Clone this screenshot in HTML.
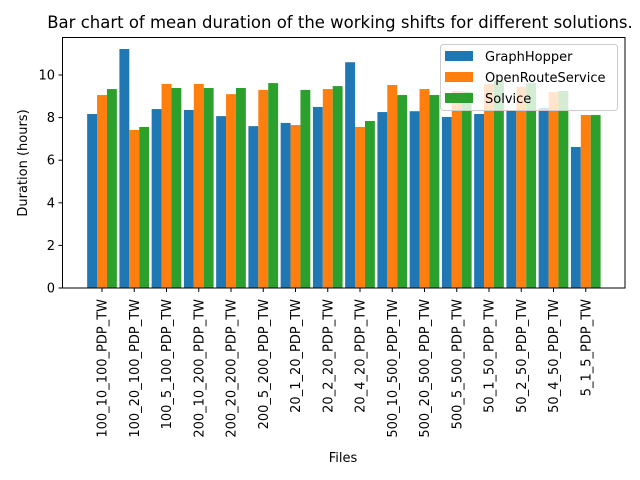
<!DOCTYPE html>
<html><head><meta charset="utf-8"><style>
body{margin:0;background:#fff;}
svg{display:block;font-family:"DejaVu Sans","Liberation Sans",sans-serif;}
</style></head><body>
<svg id="chart" width="640" height="480">
<text x="340" y="28" font-size="16.5" text-anchor="middle">Bar chart of mean duration of the working shifts for different solutions.</text>
<g id="bars"></g>
<g id="yticks"></g>
<g id="xticks"></g>
<rect x="62.5" y="37.5" width="562.5" height="250.5" fill="none" stroke="#000" stroke-width="1"/>
<text transform="translate(27,163) rotate(-90)" font-size="13" text-anchor="middle">Duration (hours)</text>
<text x="343" y="462" font-size="13" text-anchor="middle">Files</text>
<g>
<rect x="440.5" y="44.5" width="177" height="66" rx="3" fill="#fff" fill-opacity="0.8" stroke="#ccc"/>
<rect x="445" y="51" width="28" height="10" fill="#1f77b4"/>
<text x="485" y="61" font-size="13">GraphHopper</text>
<rect x="445" y="72" width="28" height="10" fill="#ff7f0e"/>
<text x="485" y="82" font-size="13">OpenRouteService</text>
<rect x="445" y="93" width="28" height="10" fill="#2ca02c"/>
<text x="485" y="103" font-size="13">Solvice</text>
</g>
</svg>
<script>
const categories=["100_10_100_PDP_TW","100_20_100_PDP_TW","100_5_100_PDP_TW","200_10_200_PDP_TW","200_20_200_PDP_TW","200_5_200_PDP_TW","20_1_20_PDP_TW","20_2_20_PDP_TW","20_4_20_PDP_TW","500_10_500_PDP_TW","500_20_500_PDP_TW","500_5_500_PDP_TW","50_1_50_PDP_TW","50_2_50_PDP_TW","50_4_50_PDP_TW","5_1_5_PDP_TW"];
const graphhopper=[8.17,11.22,8.4,8.36,8.07,7.6,7.75,8.5,10.6,8.26,8.3,8.03,8.17,8.36,8.45,6.62];
const openroute=[9.06,7.42,9.58,9.58,9.1,9.3,7.65,9.34,7.56,9.53,9.34,9.25,9.58,9.44,9.2,8.12];
const solvice=[9.34,7.56,9.39,9.39,9.39,9.62,9.3,9.48,7.84,9.06,9.06,9.22,9.72,9.62,9.25,8.12];
const yTicks=[0,2,4,6,8,10];
const NS="http://www.w3.org/2000/svg";
function yS(v){return 288-v*21.3;}
function xS(i){return 102+i*32.25;}
const bw=9.9;
const series=[[graphhopper,"#1f77b4","graphhopper",-1],[openroute,"#ff7f0e","openrouteservice",0],[solvice,"#2ca02c","solvice",1]];
const bars=document.getElementById('bars');
series.forEach(s=>{
  s[0].forEach((v,i)=>{
    const r=document.createElementNS(NS,'rect');
    const cx=xS(i)+s[3]*bw;
    r.setAttribute('x',cx-bw/2);r.setAttribute('width',bw);
    r.setAttribute('y',yS(v));r.setAttribute('height',yS(0)-yS(v));
    r.setAttribute('fill',s[1]);
    
    
    bars.appendChild(r);
  });
});
const yg=document.getElementById('yticks');
yTicks.forEach(t=>{
  const l=document.createElementNS(NS,'line');
  l.setAttribute('x1',58.5);l.setAttribute('x2',62.5);l.setAttribute('y1',yS(t));l.setAttribute('y2',yS(t));l.setAttribute('stroke','#000');
  
  
  yg.appendChild(l);
  const tx=document.createElementNS(NS,'text');
  tx.setAttribute('x',55);tx.setAttribute('y',yS(t)+4.5);tx.setAttribute('font-size','13');tx.setAttribute('text-anchor','end');
  tx.textContent=t;
  
  
  yg.appendChild(tx);
});
const xg=document.getElementById('xticks');
categories.forEach((c,i)=>{
  const x=xS(i);
  const l=document.createElementNS(NS,'line');
  l.setAttribute('x1',x);l.setAttribute('x2',x);l.setAttribute('y1',288);l.setAttribute('y2',292);l.setAttribute('stroke','#000');
  
  
  xg.appendChild(l);
  const tx=document.createElementNS(NS,'text');
  tx.setAttribute('transform','translate('+(x+4.5)+',299) rotate(-90)');
  tx.setAttribute('font-size','13');tx.setAttribute('text-anchor','end');
  tx.textContent=c;
  
  
  xg.appendChild(tx);
});
</script>
</body></html>
